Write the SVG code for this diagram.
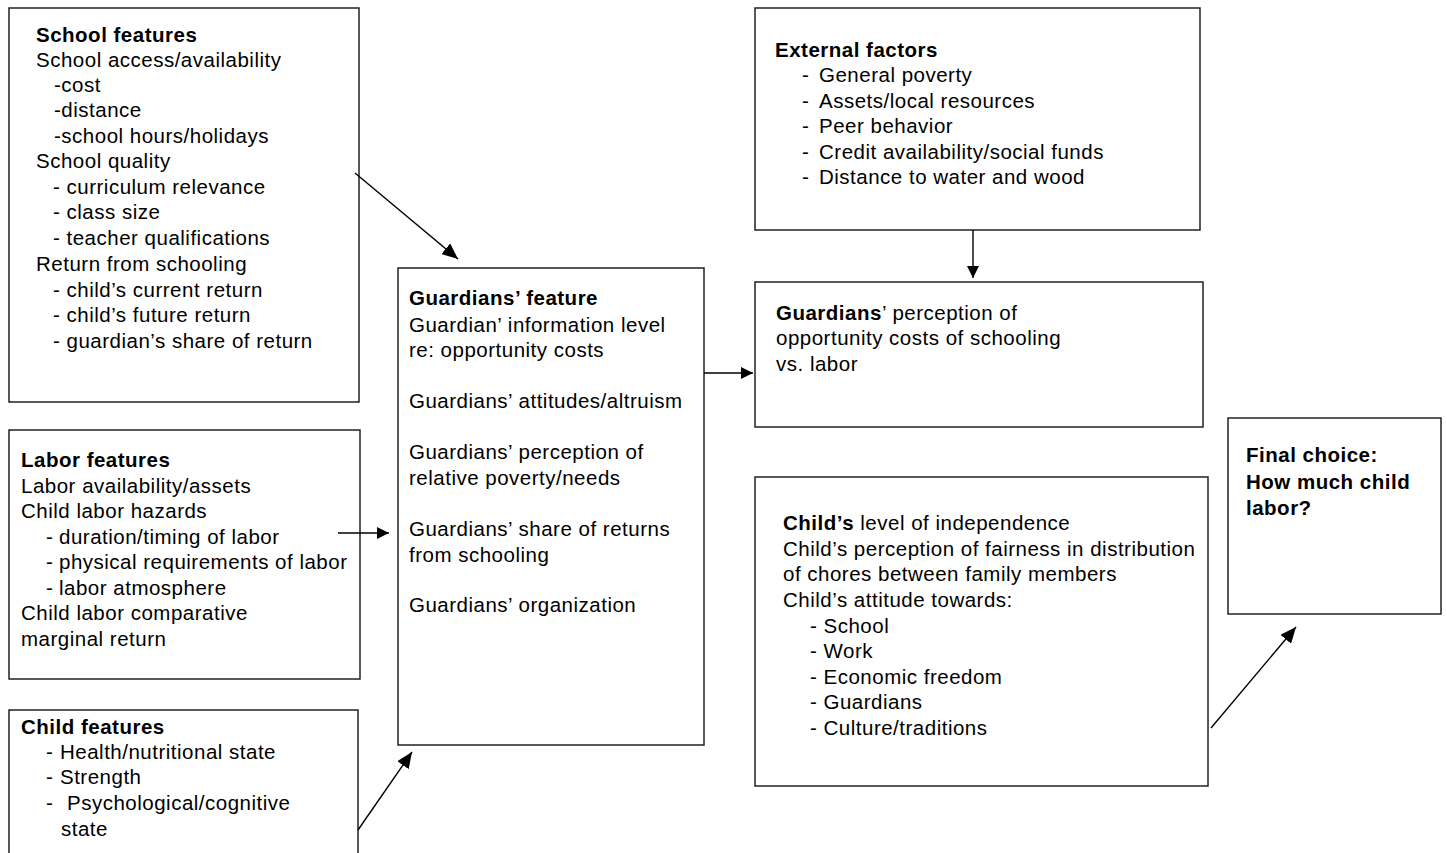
<svg xmlns="http://www.w3.org/2000/svg" width="1447" height="853" viewBox="0 0 1447 853">
<style>
  text { font-family: "Liberation Sans", Arial, sans-serif; font-size: 20.5px; letter-spacing: 0.5px; fill: #000; }
  .b { font-weight: bold; }
  rect.box { fill: #fff; stroke: #222; stroke-width: 1.5; }
  .conn line { stroke: #000; stroke-width: 1.4; }
</style>
<defs>
  <marker id="ah" markerUnits="userSpaceOnUse" markerWidth="18" markerHeight="14" refX="16" refY="7" orient="auto">
    <path d="M0,0 L16,7 L0,14 Z" fill="#000"/>
  </marker>
  <marker id="ahs" markerUnits="userSpaceOnUse" markerWidth="14" markerHeight="14" refX="12" refY="6" orient="auto">
    <path d="M0,0 L12,6 L0,12 Z" fill="#000"/>
  </marker>
</defs>

<g id="school">
  <rect class="box" x="9" y="8" width="350" height="394"/>
  <text x="36" y="42" class="b">School features</text>
  <text x="36" y="67">School access/availability</text>
  <text x="54" y="92">-cost</text>
  <text x="54" y="117">-distance</text>
  <text x="54" y="143">-school hours/holidays</text>
  <text x="36" y="168">School quality</text>
  <text x="53" y="194">- curriculum relevance</text>
  <text x="53" y="219">- class size</text>
  <text x="53" y="245">- teacher qualifications</text>
  <text x="36" y="271">Return from schooling</text>
  <text x="53" y="297">- child’s current return</text>
  <text x="53" y="322">- child’s future return</text>
  <text x="53" y="348">- guardian’s share of return</text>
</g>

<g id="labor">
  <rect class="box" x="9" y="430" width="351" height="249"/>
  <text x="21" y="467" class="b">Labor features</text>
  <text x="21" y="493">Labor availability/assets</text>
  <text x="21" y="518">Child labor hazards</text>
  <text y="544"><tspan x="46">-</tspan><tspan x="59">duration/timing of labor</tspan></text>
  <text y="569"><tspan x="46">-</tspan><tspan x="59">physical requirements of labor</tspan></text>
  <text y="595"><tspan x="46">-</tspan><tspan x="59">labor atmosphere</tspan></text>
  <text x="21" y="620">Child labor comparative</text>
  <text x="21" y="646">marginal return</text>
</g>

<g id="child">
  <rect class="box" x="9" y="710" width="349" height="150"/>
  <text x="21" y="734" class="b">Child features</text>
  <text y="759"><tspan x="46">-</tspan><tspan x="60">Health/nutritional state</tspan></text>
  <text y="784"><tspan x="46">-</tspan><tspan x="60">Strength</tspan></text>
  <text y="810"><tspan x="46">-</tspan><tspan x="67">Psychological/cognitive</tspan></text>
  <text x="61" y="836">state</text>
</g>

<g id="guardians">
  <rect class="box" x="398" y="268" width="306" height="477"/>
  <text x="409" y="305" class="b">Guardians’ feature</text>
  <text x="409" y="332">Guardian’ information level</text>
  <text x="409" y="357">re: opportunity costs</text>
  <text x="409" y="408">Guardians’ attitudes/altruism</text>
  <text x="409" y="459">Guardians’ perception of</text>
  <text x="409" y="485">relative poverty/needs</text>
  <text x="409" y="536">Guardians’ share of returns</text>
  <text x="409" y="562">from schooling</text>
  <text x="409" y="612">Guardians’ organization</text>
</g>

<g id="external">
  <rect class="box" x="755" y="8" width="445" height="222"/>
  <text x="775" y="57" class="b">External factors</text>
  <text y="82"><tspan x="802">-</tspan><tspan x="819">General poverty</tspan></text>
  <text y="108"><tspan x="802">-</tspan><tspan x="819">Assets/local resources</tspan></text>
  <text y="133"><tspan x="802">-</tspan><tspan x="819">Peer behavior</tspan></text>
  <text y="159"><tspan x="802">-</tspan><tspan x="819">Credit availability/social funds</tspan></text>
  <text y="184"><tspan x="802">-</tspan><tspan x="819">Distance to water and wood</tspan></text>
</g>

<g id="perception">
  <rect class="box" x="755" y="282" width="448" height="145"/>
  <text x="776" y="320"><tspan class="b">Guardians</tspan>’ perception of</text>
  <text x="776" y="345">opportunity costs of schooling</text>
  <text x="776" y="371">vs. labor</text>
</g>

<g id="childview">
  <rect class="box" x="755" y="477" width="453" height="309"/>
  <text x="783" y="530"><tspan class="b">Child’s</tspan> level of independence</text>
  <text x="783" y="556">Child’s perception of fairness in distribution</text>
  <text x="783" y="581">of chores between family members</text>
  <text x="783" y="607">Child’s attitude towards:</text>
  <text x="810" y="633">- School</text>
  <text x="810" y="658">- Work</text>
  <text x="810" y="684">- Economic freedom</text>
  <text x="810" y="709">- Guardians</text>
  <text x="810" y="735">- Culture/traditions</text>
</g>

<g id="final">
  <rect class="box" x="1228" y="418" width="213" height="196"/>
  <text x="1246" y="462" class="b">Final choice:</text>
  <text x="1246" y="489" class="b">How much child</text>
  <text x="1246" y="515" class="b">labor?</text>
</g>

<g id="connectors" class="conn">
  <line x1="355" y1="173" x2="458" y2="259" marker-end="url(#ah)"/>
  <line x1="338" y1="533" x2="389" y2="533" marker-end="url(#ahs)"/>
  <line x1="358" y1="830" x2="412" y2="752" marker-end="url(#ah)"/>
  <line x1="704" y1="373" x2="753" y2="373" marker-end="url(#ahs)"/>
  <line x1="973" y1="230" x2="973" y2="278" marker-end="url(#ahs)"/>
  <line x1="1211" y1="728" x2="1296" y2="627" marker-end="url(#ah)"/>
</g>
</svg>
